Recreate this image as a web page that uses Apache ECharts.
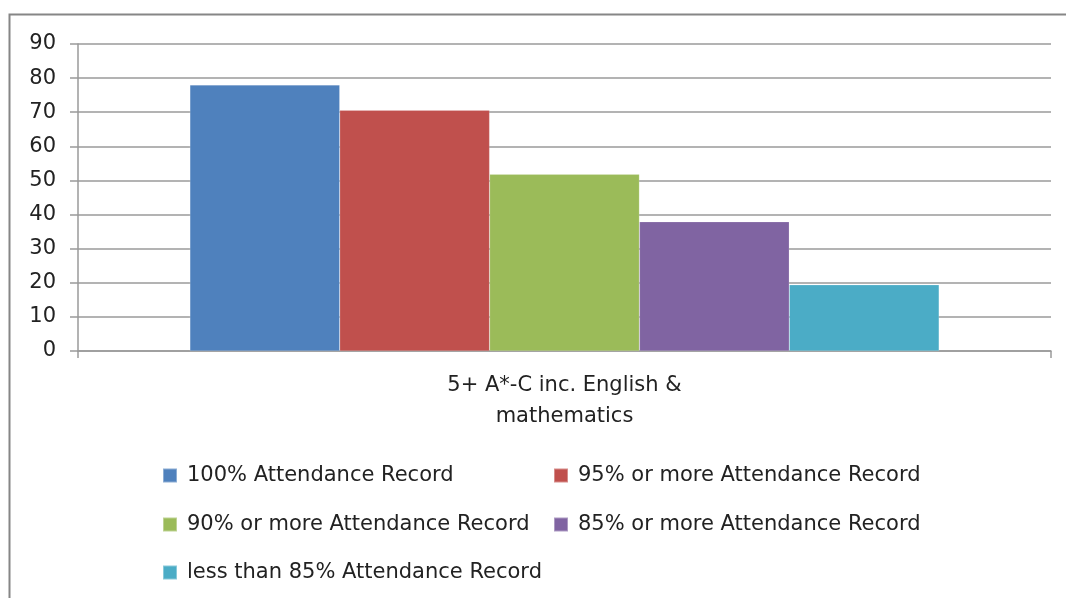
<!DOCTYPE html>
<html><head><meta charset="utf-8">
<script src="https://cdn.jsdelivr.net/npm/echarts@6/dist/echarts.min.js"></script>
<style>html,body{margin:0;padding:0;background:#fff}#c{width:1066px;height:598px}</style>
</head><body><div id="c"></div>
<script>
const categories = ['5+ A*-C inc. English &\nmathematics'];
const seriesNames = ['100% Attendance Record','95% or more Attendance Record','90% or more Attendance Record','85% or more Attendance Record','less than 85% Attendance Record'];
const seriesValues = [[78],[70.6],[51.8],[37.9],[19.4]];
const colors = ['#4F81BD','#C0504D','#9BBB59','#8064A2','#4BACC6'];
const yTicks = {min:0,max:90,interval:10};

const font = 'DejaVu Sans';
const legendPos = [[162,465],[553,465],[162,514],[553,514],[162,562]];
const chart = echarts.init(document.getElementById('c'));
chart.setOption({
  animation:false,
  backgroundColor:'#fff',
  color:colors,
  graphic:[{type:'rect',shape:{x:9.5,y:14.5,width:1100,height:620},style:{fill:'none',stroke:'#868686',lineWidth:2},silent:true}],
  grid:{left:78,right:15,top:44,bottom:247},
  legend: seriesNames.map((n,i)=>({data:[n],left:legendPos[i][0],top:legendPos[i][1],itemWidth:14,itemHeight:14,itemGap:0,icon:'rect',textStyle:{fontFamily:font,fontSize:21,color:'#222',padding:[0,0,0,5]},padding:0})),
  xAxis:{type:'category',data:categories,axisLine:{lineStyle:{color:'#9a9a9a',width:1.5}},axisTick:{show:true,alignWithLabel:false,length:7,lineStyle:{color:'#9a9a9a',width:1.5}},
    axisLabel:{fontFamily:font,fontSize:21,color:'#222',lineHeight:31,margin:19}},
  yAxis:{type:'value',min:yTicks.min,max:yTicks.max,interval:yTicks.interval,
    axisLine:{show:true,lineStyle:{color:'#9a9a9a',width:1.5}},axisTick:{show:true,inside:false,length:8,lineStyle:{color:'#9a9a9a',width:1.5}},
    splitLine:{lineStyle:{color:'#9a9a9a',width:1.5}},
    axisLabel:{fontFamily:font,fontSize:21,color:'#222',margin:22}},
  series: seriesNames.map((n,i)=>({name:n,type:'bar',data:seriesValues[i],barGap:'0%',barCategoryGap:'23%',itemStyle:{color:colors[i],borderColor:'rgba(255,255,255,0.35)',borderWidth:0.5}}))
});
</script></body></html>
